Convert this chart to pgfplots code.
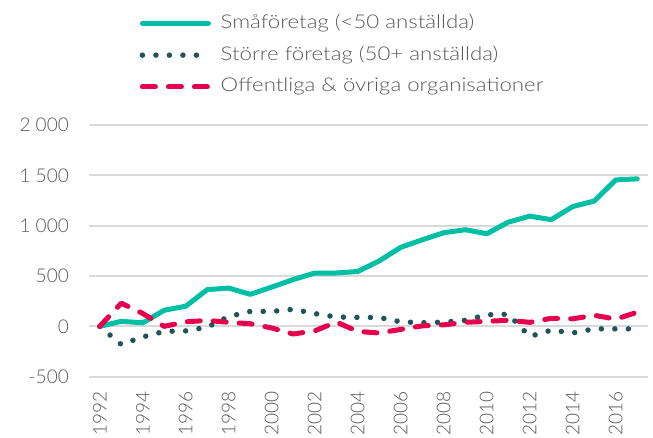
\documentclass[border=0pt]{standalone}
\usepackage{fontspec}
\setmainfont{Lato}[UprightFont=* Light]
\newfontfamily\legfont{Lato}[UprightFont=* Light, FakeStretch=1.17]
\usepackage{pgfplots}
\pgfplotsset{compat=1.18}
\definecolor{cgreen}{RGB}{0,191,165}
\definecolor{cdark}{RGB}{31,84,91}
\definecolor{cred}{RGB}{230,0,76}
\definecolor{cgrid}{RGB}{217,217,217}
\definecolor{ctext}{RGB}{89,89,89}
\pgfplotstableread{
year small large public
1992 0 0 0
1993 50 -180 230
1994 35 -105 128
1995 160 -50 0
1996 200 -45 45
1997 365 -8 59
1998 380 98 40
1999 318 148 26
2000 390 148 -16
2001 465 170 -76
2002 530 127 -45
2003 530 93 43
2004 545 89 -50
2005 650 88 -66
2006 785 45 -30
2007 860 36 5
2008 930 42 15
2009 960 60 40
2010 920 115 50
2011 1035 120 60
2012 1095 -100 40
2013 1060 -38 80
2014 1190 -65 75
2015 1245 -25 110
2016 1455 -25 72
2017 1465 -25 140
}\datatable
\begin{document}
\begin{tikzpicture}
\useasboundingbox (0,0) rectangle (653pt,437pt);
\begin{axis}[
  at={(89pt,60.3pt)}, anchor=south west,
  scale only axis, width=559pt, height=251.7pt,
  xmin=1991.5, xmax=2017.5, ymin=-500, ymax=2000,
  axis line style={draw=none},
  major tick length=0pt,
  /pgf/number format/assume math mode=true,
  ytick={-500,0,500,1000,1500,2000},
  yticklabels={-500,0,500,1 000,1 500,2 000},
  xtick={1992,1994,1996,1998,2000,2002,2004,2006,2008,2010,2012,2014,2016},
  xticklabels={1992,1994,1996,1998,2000,2002,2004,2006,2008,2010,2012,2014,2016},
  ymajorgrids, grid style={cgrid, line width=2pt},
  tick label style={font=\fontsize{19}{19}\selectfont, text=ctext, inner sep=0pt},
  yticklabel style={anchor=east},
  yticklabel shift=20pt,
  xticklabel style={rotate=90, anchor=east},
  xticklabel shift=15pt,
  legend style={at={(0.0903,1.444)}, anchor=north west, draw=none, fill=none,
    font=\legfont\fontsize{19}{22}\selectfont, text=ctext, inner sep=0pt,
    nodes={inner sep=0pt, text height=15pt, text depth=5pt},
    row sep=11.7pt,
    /tikz/every odd column/.append style={column sep=9.5pt}},
  legend cell align=left,
  legend image code/.code={\draw[#1] (0pt,0pt) -- (66pt,0pt);},
]
\addplot[cgreen, line width=5pt, line join=round, line cap=round] table[x=year, y=small] {\datatable};
\addlegendentry{Småföretag (<50 anställda)}
\addplot[cdark, line width=5.5pt, line cap=round, dash pattern=on 0pt off 13.5pt] table[x=year, y=large] {\datatable};
\addlegendentry{Större företag (50+ anställda)}
\addplot[cred, line width=5pt, line cap=round, line join=round, dash pattern=on 13pt off 13pt] table[x=year, y=public] {\datatable};
\addlegendentry{Offentliga \& övriga organisationer}
\end{axis}
\end{tikzpicture}
\end{document}
